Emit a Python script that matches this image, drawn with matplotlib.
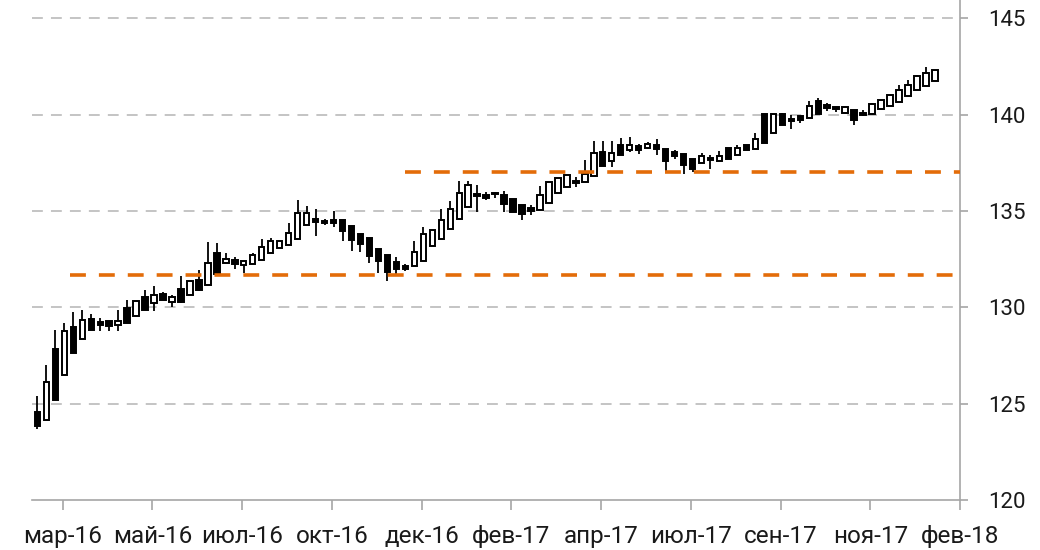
import matplotlib
matplotlib.use('Agg')
import matplotlib.pyplot as plt
from matplotlib.patches import Rectangle
import numpy as np

plt.rcParams['font.family'] = ['Roboto', 'DejaVu Sans']

# weekly candles, mar-16 .. jan-18
opens = [124.55, 124.17, 127.86, 126.51, 128.96, 128.33, 129.39, 129.23, 129.27, 129.06,
         129.95, 129.57, 130.54, 130.20, 130.71, 130.29, 130.94, 130.63, 131.44, 131.15,
         132.83, 132.29, 132.45, 132.19, 132.27, 132.48, 132.80, 133.09, 133.21, 133.52,
         134.25, 134.57, 134.48, 134.53, 134.55, 134.22, 133.82, 133.62, 133.04, 132.73,
         132.34, 132.17, 132.12, 132.43, 133.16, 133.56, 134.08, 134.60, 135.21, 135.90,
         135.85, 135.95, 135.83, 135.61, 135.30, 135.14, 135.03, 135.43, 135.92, 136.22,
         136.56, 136.48, 136.82, 138.04, 137.60, 138.44, 138.16, 138.35, 138.28, 138.40,
         138.23, 138.06, 137.97, 137.71, 137.48, 137.74, 137.57, 138.28, 137.88, 138.45,
         138.23, 140.05, 139.05, 140.05, 139.77, 139.95, 139.83, 140.69, 140.49, 140.40,
         140.09, 140.26, 140.09, 140.03, 140.31, 140.43, 140.64, 140.95, 141.30, 141.48,
         141.77]
closes = [123.85, 126.12, 125.19, 128.79, 127.65, 129.35, 128.84, 129.06, 129.01, 129.30,
          129.18, 130.32, 129.86, 130.63, 130.37, 130.54, 130.29, 131.39, 130.92, 132.31,
          131.74, 132.52, 132.26, 132.43, 132.71, 133.13, 133.44, 133.44, 133.87, 134.88,
          134.91, 134.44, 134.38, 134.38, 133.95, 133.50, 133.28, 132.65, 132.43, 131.82,
          132.00, 132.00, 132.86, 133.82, 133.99, 134.51, 135.12, 135.95, 136.37, 135.80,
          135.68, 135.87, 135.38, 134.97, 134.86, 135.00, 135.83, 136.48, 136.70, 136.88,
          136.44, 136.94, 138.00, 137.34, 137.99, 137.90, 138.44, 138.18, 138.49, 138.23,
          137.59, 137.85, 137.41, 137.19, 137.83, 137.65, 137.85, 137.71, 138.28, 138.14,
          138.75, 138.52, 140.05, 139.48, 139.65, 139.74, 140.43, 140.03, 140.35, 140.31,
          140.38, 139.74, 140.00, 140.56, 140.75, 141.00, 141.30, 141.56, 142.00, 142.17,
          142.34]
highs = [125.40, 127.02, 128.84, 129.18, 129.74, 129.86, 129.64, 129.47, 129.27, 129.86,
         130.37, 130.32, 130.88, 131.09, 130.80, 130.63, 131.62, 131.39, 131.96, 133.40,
         133.32, 132.80, 132.62, 132.43, 132.83, 133.52, 133.58, 133.44, 134.36, 135.57,
         135.26, 135.10, 134.57, 135.00, 134.55, 134.22, 133.82, 133.62, 133.04, 132.73,
         132.60, 132.26, 133.42, 134.17, 133.99, 135.09, 135.52, 136.56, 136.54, 136.34,
         135.99, 136.00, 136.05, 135.61, 135.30, 135.30, 136.30, 136.48, 136.70, 136.88,
         136.77, 137.66, 138.61, 138.61, 138.61, 138.78, 138.82, 138.49, 138.58, 138.72,
         138.23, 138.18, 137.97, 137.71, 138.02, 137.88, 138.09, 138.28, 138.45, 138.45,
         139.05, 140.05, 140.05, 140.09, 139.97, 139.95, 140.73, 140.87, 140.61, 140.40,
         140.38, 140.26, 140.26, 140.61, 140.75, 141.00, 141.56, 141.82, 142.08, 142.47,
         142.34]
lows = [123.70, 124.17, 125.19, 126.51, 127.65, 128.33, 128.84, 128.79, 128.79, 128.76,
        129.18, 129.57, 129.86, 129.81, 130.37, 130.03, 130.20, 130.63, 130.87, 131.15,
        131.74, 132.29, 132.01, 131.79, 132.27, 132.48, 132.80, 133.09, 133.21, 133.52,
        134.25, 133.70, 134.25, 134.18, 133.42, 132.92, 132.88, 132.28, 131.77, 131.35,
        131.74, 131.88, 132.12, 132.43, 133.16, 133.56, 134.08, 134.60, 135.21, 134.95,
        135.55, 135.69, 134.95, 134.97, 134.55, 134.80, 135.03, 135.43, 135.92, 136.22,
        136.22, 136.48, 136.82, 137.34, 137.29, 137.90, 138.04, 137.97, 138.23, 137.88,
        137.10, 137.71, 136.93, 137.01, 137.48, 137.19, 137.57, 137.71, 137.88, 138.14,
        138.23, 138.52, 139.05, 139.48, 139.27, 139.57, 139.83, 140.03, 140.17, 140.14,
        140.09, 139.44, 139.91, 140.03, 140.31, 140.43, 140.64, 140.95, 141.30, 141.48,
        141.77]

tick_labels = ['мар-16', 'май-16', 'июл-16', 'окт-16', 'дек-16', 'фев-17',
               'апр-17', 'июл-17', 'сен-17', 'ноя-17', 'фев-18']

# horizontal levels (value, first week)
levels = [131.7, 137.03]
level_start = [3.6, 41.0]


def main():
    fig = plt.figure(figsize=(10.4, 5.5), dpi=100)
    ax = fig.add_axes([32 / 1040, 50 / 550, 928 / 1040, 500 / 550])

    x_right = 102.8
    ax.set_xlim(-0.6, x_right)
    ax.set_ylim(120, 145.95)

    # grid
    for v in range(125, 146, 5):
        ax.axhline(v, color='#BFBFBF', lw=1.3, linestyle=(0, (6, 4.5)), zorder=0)

    # candles
    w = 0.6
    for i in range(len(opens)):
        o, c, h, l = opens[i], closes[i], highs[i], lows[i]
        ax.plot([i, i], [l, h], color='black', lw=1.3, zorder=2, solid_capstyle='butt')
        up = c >= o
        body = Rectangle((i - w / 2, min(o, c)), w, max(abs(c - o), 0.06),
                         facecolor='white' if up else 'black', edgecolor='black',
                         lw=1.4, zorder=3)
        ax.add_patch(body)

    # orange levels
    for lv, st in zip(levels, level_start):
        ax.plot([st, x_right], [lv, lv], color='#E36C09', lw=2.6,
                linestyle=(0, (4.4, 3.6)), zorder=4, solid_capstyle='butt',
                dash_capstyle='butt')

    # axes
    for s in ['top', 'left']:
        ax.spines[s].set_visible(False)
    for s in ['right', 'bottom']:
        ax.spines[s].set_color('#A6A6A6')
        ax.spines[s].set_linewidth(1.2)
    ax.yaxis.tick_right()
    ax.set_yticks(range(120, 146, 5))
    ax.set_xticks([2.8 + 10 * k for k in range(len(tick_labels))])
    ax.set_xticklabels(tick_labels)
    ax.tick_params(axis='y', direction='out', length=6, width=1.2, color='#A6A6A6',
                   labelsize=16, labelcolor='#1a1a1a', pad=14)
    ax.tick_params(axis='x', direction='out', length=7, width=1.2, color='#A6A6A6',
                   labelsize=17.5, labelcolor='#1a1a1a', pad=11)

    fig.savefig('out.png', dpi=100)


if __name__ == '__main__':
    main()
